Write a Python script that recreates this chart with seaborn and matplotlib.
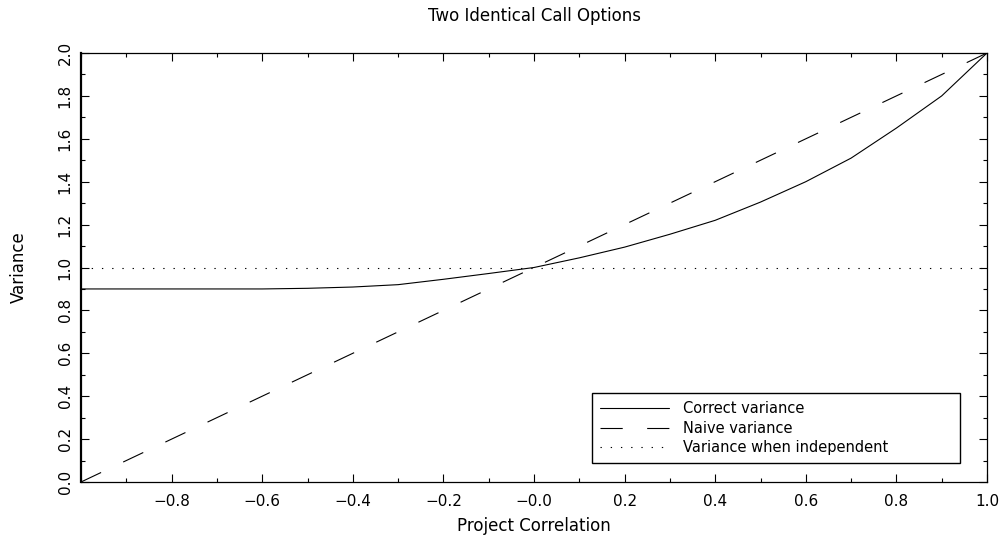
import matplotlib
matplotlib.use("Agg")
import matplotlib.pyplot as plt
from matplotlib.ticker import MultipleLocator, FixedLocator, FixedFormatter
import seaborn as sns
import pandas as pd

correlation = [-1.0, -0.9, -0.8, -0.7, -0.6, -0.5, -0.4, -0.3, -0.2, -0.1, 0.0,
               0.1, 0.2, 0.3, 0.4, 0.5, 0.6, 0.7, 0.8, 0.9, 1.0]
correct_var = [0.90, 0.90, 0.90, 0.90, 0.90, 0.903, 0.909, 0.92, 0.945, 0.972, 1.0,
               1.045, 1.095, 1.155, 1.22, 1.305, 1.40, 1.51, 1.65, 1.80, 2.0]
naive_var = [0.0, 0.1, 0.2, 0.3, 0.4, 0.5, 0.6, 0.7, 0.8, 0.9, 1.0,
             1.1, 1.2, 1.3, 1.4, 1.5, 1.6, 1.7, 1.8, 1.9, 2.0]
indep_var = [1.0] * len(correlation)

x_ticks = [-0.8, -0.6, -0.4, -0.2, 0.0, 0.2, 0.4, 0.6, 0.8, 1.0]
x_labels = ["\u22120.8", "\u22120.6", "\u22120.4", "\u22120.2", "\u22120.0",
            "0.2", "0.4", "0.6", "0.8", "1.0"]
y_ticks = [0.0, 0.2, 0.4, 0.6, 0.8, 1.0, 1.2, 1.4, 1.6, 1.8, 2.0]

df = pd.DataFrame({"corr": correlation, "correct": correct_var,
                   "naive": naive_var, "indep": indep_var})

sns.set_style("ticks")
plt.rcParams["font.family"] = ["DejaVu Sans"]
plt.rcParams["text.color"] = "black"
plt.rcParams["axes.labelcolor"] = "black"
plt.rcParams["xtick.labelcolor"] = "black"
plt.rcParams["ytick.labelcolor"] = "black"

fig = plt.figure(figsize=(10.05, 5.41), dpi=100)
ax = fig.add_axes([81 / 1005, 59 / 541, 906 / 1005, 429 / 541])

lw = 0.8
sns.lineplot(data=df, x="corr", y="correct", ax=ax, color="black", lw=lw,
             label="Correct variance")
sns.lineplot(data=df, x="corr", y="naive", ax=ax, color="black", lw=lw,
             label="Naive variance")
sns.lineplot(data=df, x="corr", y="indep", ax=ax, color="black", lw=lw,
             label="Variance when independent")
ax.lines[1].set_dashes([20, 22])
ax.lines[2].set_dashes([1.2, 8])

ax.set_xlim(-1.0, 1.0)
ax.set_ylim(0.0, 2.0)
ax.xaxis.set_major_locator(FixedLocator(x_ticks))
ax.xaxis.set_major_formatter(FixedFormatter(x_labels))
ax.xaxis.set_minor_locator(MultipleLocator(0.1))
ax.set_yticks(y_ticks)
ax.set_yticklabels([f"{v:.1f}" for v in y_ticks], rotation=90, va="center")
ax.yaxis.set_minor_locator(MultipleLocator(0.1))
ax.tick_params(which="major", direction="in", top=True, right=True,
               length=5.8, width=0.8, labelsize=11, color="black")
ax.tick_params(which="minor", direction="in", top=True, right=True,
               length=3, width=0.8, color="black")
ax.tick_params(axis="x", which="major", pad=9)
ax.tick_params(axis="y", which="major", pad=6)
for s in ax.spines.values():
    s.set_linewidth(0.9)
    s.set_color("black")
ax.spines["left"].set_linewidth(1.6)

ax.set_xlabel("Project Correlation", fontsize=12)
ax.xaxis.set_label_coords(0.5, -0.0816)
ax.set_ylabel("Variance", fontsize=12)
ax.yaxis.set_label_coords(-0.0585, 0.5)
ax.set_title("Two Identical Call Options", fontsize=12, pad=23)

leg = ax.legend(loc="lower left", bbox_to_anchor=(0.564, 0.044, 0.406, 0.17),
                mode="expand", borderaxespad=0, fontsize=10.5,
                frameon=True, fancybox=False, edgecolor="black",
                handlelength=4.7, handletextpad=1.0, borderpad=0.55,
                labelspacing=0.3)
leg.get_frame().set_linewidth(1.0)
leg.get_frame().set_alpha(1)

fig.savefig("out.png", dpi=100)
